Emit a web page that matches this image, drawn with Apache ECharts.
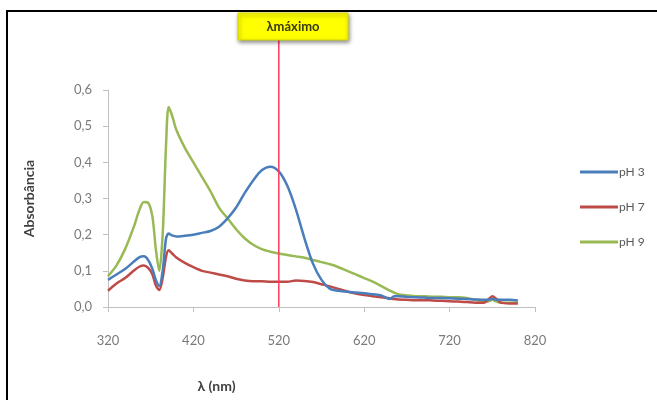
<!DOCTYPE html>
<html>
<head>
<meta charset="utf-8">
<script src="https://cdn.jsdelivr.net/npm/echarts@6/dist/echarts.min.js"></script>
<style>
html,body{margin:0;padding:0;background:#fff;}
#chart{width:657px;height:400px;}
</style>
</head>
<body>
<div id="chart"></div>
<script>
const wavelengths = [320,330,340,350,357,362,367,372,376,380,384,388,391,395,400,410,420,430,440,450,460,470,480,490,500,510,520,530,540,550,560,570,580,590,600,610,620,630,640,650,655,660,670,680,690,700,710,720,730,740,750,760,765,770,775,780,790,800];
const pH3 = [0.075,0.09,0.105,0.125,0.138,0.14,0.13,0.105,0.075,0.058,0.1,0.19,0.203,0.198,0.195,0.197,0.2,0.205,0.21,0.222,0.245,0.275,0.315,0.35,0.378,0.388,0.375,0.335,0.27,0.19,0.12,0.075,0.05,0.045,0.042,0.04,0.038,0.035,0.032,0.022,0.03,0.03,0.028,0.027,0.026,0.025,0.025,0.024,0.023,0.022,0.021,0.02,0.02,0.022,0.02,0.02,0.02,0.018];
const pH7 = [0.045,0.065,0.08,0.1,0.112,0.115,0.108,0.09,0.06,0.047,0.08,0.14,0.157,0.148,0.137,0.122,0.11,0.1,0.095,0.09,0.085,0.078,0.073,0.071,0.071,0.07,0.07,0.07,0.073,0.072,0.069,0.063,0.057,0.05,0.043,0.037,0.033,0.03,0.027,0.024,0.022,0.021,0.02,0.019,0.019,0.018,0.017,0.016,0.015,0.014,0.012,0.012,0.02,0.03,0.022,0.012,0.01,0.01];
const pH9 = [0.085,0.115,0.16,0.22,0.27,0.29,0.288,0.25,0.16,0.1,0.2,0.45,0.553,0.53,0.49,0.44,0.4,0.36,0.32,0.275,0.245,0.215,0.19,0.172,0.16,0.153,0.148,0.144,0.14,0.136,0.13,0.124,0.118,0.11,0.1,0.09,0.08,0.07,0.058,0.045,0.04,0.035,0.032,0.03,0.03,0.028,0.028,0.027,0.027,0.025,0.02,0.015,0.015,0.02,0.015,0.012,0.012,0.012];
const seriesNames = ['pH 3','pH 7','pH 9'];
const xTicks = [320,420,520,620,720,820];
const yTicks = [0,0.1,0.2,0.3,0.4,0.5,0.6];
const lambdaMax = 520;
const annotationText = 'λmáximo';
const xTitle = 'λ (nm)';
const yTitle = 'Absorbância';

const colors = ['#4a7ebb','#be4b48','#98b954'];
const values = [pH3,pH7,pH9];
const font = 'Lato, "Open Sans", sans-serif';

const chart = echarts.init(document.getElementById('chart'), null, {renderer:'canvas'});
const option = {
  backgroundColor:'#ffffff',
  animation:false,
  grid:{left:108, top:90, width:427, height:217},
  legend:{
    orient:'vertical', left:575, top:161, itemWidth:38, itemHeight:3, itemGap:23,
    icon:'rect',
    data: seriesNames.map((n,i)=>({name:n, itemStyle:{color:colors[i]}})),
    textStyle:{color:'#595959', fontSize:12, fontFamily:font, padding:[0,0,0,-4]}
  },
  xAxis:{
    type:'value', min:xTicks[0], max:xTicks[xTicks.length-1],
    name:xTitle, nameLocation:'middle', nameGap:72,
    nameTextStyle:{color:'#404040', fontWeight:'bold', fontSize:14, fontFamily:font, padding:[0,0,0,-210]},
    axisLine:{show:true, lineStyle:{color:'#c0c0c0', width:1}},
    axisTick:{show:true, inside:false, length:5, customValues:xTicks, lineStyle:{color:'#c0c0c0'}},
    axisLabel:{customValues:xTicks, margin:27, color:'#7a7a7a', fontSize:13, fontFamily:font},
    splitLine:{show:false}
  },
  yAxis:{
    type:'value', min:0, max:0.6, interval:0.1,
    name:yTitle, nameLocation:'middle', nameGap:72, nameRotate:90,
    nameTextStyle:{color:'#404040', fontWeight:'bold', fontSize:14, fontFamily:font},
    axisLine:{show:true, lineStyle:{color:'#c0c0c0', width:1}},
    axisTick:{show:true, length:5, lineStyle:{color:'#c0c0c0'}},
    axisLabel:{margin:16, color:'#7a7a7a', fontSize:13, fontFamily:font,
      formatter:v=>v.toFixed(1).replace('.',',')},
    splitLine:{show:false}
  },
  series: seriesNames.map((n,i)=>({
    name:n, type:'line', showSymbol:false, smooth:0.3,
    data: wavelengths.map((w,j)=>[w, values[i][j]]),
    lineStyle:{color:colors[i], width:2.5},
    itemStyle:{color:colors[i]},
    z: 3-i
  }))
};
chart.setOption(option);

const px = chart.convertToPixel({xAxisIndex:0}, lambdaMax);
const y0 = chart.convertToPixel({yAxisIndex:0}, yTicks[0]);
chart.setOption({
  graphic:[
    {type:'rect', shape:{x:7, y:11, width:700, height:450}, style:{fill:'none', stroke:'#000', lineWidth:2}, z:10},
    {type:'line', shape:{x1:px, y1:40, x2:px, y2:y0}, style:{stroke:'#ff3a5c', lineWidth:1.5}, z:20},
    {type:'rect', shape:{x:238, y:13, width:110, height:27},
      style:{fill:'#ffff00', stroke:'#d8d800', lineWidth:1, shadowBlur:4, shadowOffsetX:1, shadowOffsetY:2, shadowColor:'rgba(0,0,0,0.45)'}, z:30},
    {type:'text', x:293, y:27, style:{text:annotationText, fill:'#3a3a10', font:'bold 13px '+font, align:'center', verticalAlign:'middle'}, z:31}
  ]
});
</script>
</body>
</html>
